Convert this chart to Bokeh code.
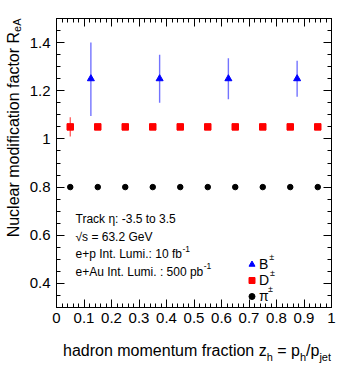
import math
from bokeh.plotting import figure
from bokeh.layouts import row, column
from bokeh.models import (FixedTicker, LinearAxis, Label, Legend, LegendItem,
                          ColumnDataSource, Range1d)
from bokeh.embed import file_html
from bokeh.resources import INLINE

# ---------------- data ----------------
z_pi = [0.05, 0.15, 0.25, 0.35, 0.45, 0.55, 0.65, 0.75, 0.85, 0.95]
R_pi = [0.80, 0.80, 0.80, 0.80, 0.80, 0.80, 0.80, 0.80, 0.80, 0.80]
err_pi = [0.002, 0.002, 0.002, 0.002, 0.002, 0.002, 0.002, 0.002, 0.002, 0.002]

z_D = [0.05, 0.15, 0.25, 0.35, 0.45, 0.55, 0.65, 0.75, 0.85, 0.95]
R_D = [1.05, 1.05, 1.05, 1.05, 1.05, 1.05, 1.05, 1.05, 1.05, 1.05]
err_D = [0.040, 0.010, 0.006, 0.005, 0.005, 0.005, 0.005, 0.005, 0.005, 0.005]

z_B = [0.125, 0.375, 0.625, 0.875]
R_B = [1.25, 1.25, 1.25, 1.25]
lo_B = [1.095, 1.150, 1.165, 1.175]
hi_B = [1.400, 1.350, 1.335, 1.325]

x_ticks = [0, 0.1, 0.2, 0.3, 0.4, 0.5, 0.6, 0.7, 0.8, 0.9, 1]
x_tick_labels = ["0", "0.1", "0.2", "0.3", "0.4", "0.5", "0.6", "0.7", "0.8", "0.9", "1"]
x_minor = [i / 50 for i in range(51)]
y_ticks = [0.4, 0.6, 0.8, 1.0, 1.2, 1.4]
y_tick_labels = ["0.4", "0.6", "0.8", "1", "1.2", "1.4"]
y_minor = [0.3 + i * 0.05 for i in range(25)]

legend_names = ["B", "D", "\u03c0"]
info_lines = ["Track \u03b7: -3.5 to 3.5", "\u221as = 63.2 GeV",
              "e+p Int. Lumi.: 10 fb", "e+Au Int. Lumi. : 500 pb"]

# ---------------- helpers ----------------
FONT = "Liberation Sans"
AW = {' ': 278, '\u00a0': 278, 'a': 556, 'b': 556, 'c': 500, 'd': 556, 'e': 556,
      'f': 278, 'g': 556, 'h': 556, 'i': 222, 'j': 222, 'k': 500, 'l': 222, 'm': 833,
      'n': 556, 'o': 556, 'p': 556, 'q': 556, 'r': 333, 's': 500, 't': 278, 'u': 556,
      'v': 500, 'w': 722, 'x': 500, 'y': 500, 'z': 500, '=': 584, '/': 278, '.': 278,
      ':': 278, '-': 333, '+': 584, 'A': 667, 'B': 667, 'D': 722, 'G': 667, 'I': 278,
      'L': 556, 'N': 722, 'R': 722, 'T': 611, 'V': 667, '\u03c0': 570, '\u03b7': 556,
      '\u221a': 549}
for d in "0123456789":
    AW[d] = 556


def tw(s, size):
    return sum(AW.get(c, 556) for c in s) * size / 1000.0


# page geometry (page margin is 0): frame left 56, right 331, top 18, bottom 307
YT_W = 24          # width of the y-title strip
P_W = 317          # main figure width
P_H = 335          # main figure height
XT_H = 31          # height of the x-title strip

# ---------------- main figure ----------------
p = figure(width=P_W, height=P_H, x_range=Range1d(0, 1), y_range=Range1d(0.3, 1.5),
           output_backend="svg", toolbar_location=None,
           min_border_left=32, min_border_right=10, min_border_top=18, min_border_bottom=28)
p.grid.visible = False
p.outline_line_color = "black"
p.background_fill_color = "white"
p.border_fill_color = "white"


def style_axis(ax, ticks, minor, labels, show, standoff):
    ax.ticker = FixedTicker(ticks=ticks, minor_ticks=minor)
    ax.major_tick_in = 8
    ax.major_tick_out = 0
    ax.minor_tick_in = 4
    ax.minor_tick_out = 0
    ax.axis_line_color = "black"
    ax.major_tick_line_color = "black"
    ax.minor_tick_line_color = "black"
    ax.major_label_text_font = FONT
    ax.major_label_text_color = "black"
    ax.major_label_text_font_size = "15px"
    ax.major_label_standoff = standoff
    if show:
        ax.major_label_overrides = {t: l for t, l in zip(ticks, labels)}
    else:
        ax.major_label_overrides = {t: "" for t in ticks}
        ax.major_label_text_color = None
        ax.major_label_text_font_size = "1px"
        ax.major_label_standoff = 0


style_axis(p.xaxis[0], x_ticks, x_minor, x_tick_labels, True, 5)
style_axis(p.yaxis[0], y_ticks, y_minor, y_tick_labels, True, 6)
top = LinearAxis()
right = LinearAxis()
style_axis(top, x_ticks, x_minor, x_tick_labels, False, 0)
style_axis(right, y_ticks, y_minor, y_tick_labels, False, 0)
p.add_layout(top, "above")
p.add_layout(right, "right")

# ---------------- data glyphs ----------------
src_pi = ColumnDataSource(dict(z=z_pi, R=R_pi, lo=[r - e for r, e in zip(R_pi, err_pi)],
                               hi=[r + e for r, e in zip(R_pi, err_pi)]))
src_D = ColumnDataSource(dict(z=z_D, R=R_D, lo=[r - e for r, e in zip(R_D, err_D)],
                              hi=[r + e for r, e in zip(R_D, err_D)]))
src_B = ColumnDataSource(dict(z=z_B, R=R_B, lo=lo_B, hi=hi_B))

p.segment(x0="z", y0="lo", x1="z", y1="hi", source=src_pi, line_color="black", line_width=1)
p.segment(x0="z", y0="lo", x1="z", y1="hi", source=src_D, line_color="#ff0000",
          line_alpha=0.7, line_width=1.2)
p.segment(x0="z", y0="lo", x1="z", y1="hi", source=src_B, line_color="#0000ff",
          line_alpha=0.55, line_width=1.4)

r_pi = p.scatter(x="z", y="R", source=src_pi, marker="circle", size=5.5,
                 fill_color="black", line_color="black")
r_D = p.scatter(x="z", y="R", source=src_D, marker="square", size=6.5,
                fill_color="#ff0000", line_color="#ff0000")
r_B = p.scatter(x="z", y="R", source=src_B, marker="triangle", size=7,
                fill_color="#0000ff", line_color="#0000ff")

# ---------------- legend ----------------
legend = Legend(items=[LegendItem(label=legend_names[0], renderers=[r_B]),
                       LegendItem(label=legend_names[1], renderers=[r_D]),
                       LegendItem(label=legend_names[2], renderers=[r_pi])],
                location=(188, 3), padding=0, margin=0, spacing=0,
                glyph_width=15, glyph_height=16, label_height=16, label_standoff=0,
                label_text_font=FONT, label_text_font_size="14px",
                label_text_color="black",
                background_fill_alpha=0, border_line_alpha=0)
p.add_layout(legend)

LS = 14
for name, yc in zip(legend_names, [43, 27, 11]):
    p.add_layout(Label(x=203 + tw(name, LS) + 0.5, y=yc + 3, x_units="screen", y_units="screen",
                       text="\u00b1", text_font=FONT, text_font_size="9px",
                       text_color="black", text_baseline="bottom", text_align="left"))

# ---------------- info text ----------------
IS = 12
for line, yc in zip(info_lines, [89, 71, 53.5, 36]):
    p.add_layout(Label(x=19, y=yc, x_units="screen", y_units="screen", text=line,
                       text_font=FONT, text_font_size=f"{IS}px", text_color="black",
                       text_baseline="middle", text_align="left"))
for line, yc in zip(info_lines[2:], [53.5, 36]):
    p.add_layout(Label(x=19 + tw(line, IS) + 0.5, y=yc + 2.5, x_units="screen", y_units="screen",
                       text="-1", text_font=FONT, text_font_size="8.5px", text_color="black",
                       text_baseline="bottom", text_align="left"))

# ---------------- axis titles (own strips so nothing is clipped) ----------------
TS = 16
SS = 11


def strip(w, h):
    f = figure(width=w, height=h, x_range=Range1d(0, 1), y_range=Range1d(0, 1),
               output_backend="svg", toolbar_location=None,
               x_axis_location=None, y_axis_location=None,
               min_border_left=0, min_border_right=0, min_border_top=0, min_border_bottom=0)
    f.grid.visible = False
    f.outline_line_color = None
    f.background_fill_color = "white"
    f.border_fill_color = "white"
    return f


yfig = strip(YT_W, P_H)
xfig = strip(P_W, XT_H)

# x title: the strip's frame is aligned with the main frame (width 275); right-anchor pieces
x_pieces = [("hadron momentum fraction z", TS), ("h", SS), ("\u00a0=\u00a0p", TS), ("h", SS),
            ("/p", TS), ("jet", SS)]
xe = 274.5
for s, f in reversed(x_pieces):
    yb = 16 if f == TS else 10
    xfig.add_layout(Label(x=xe, y=yb, x_units="screen", y_units="screen", text=s,
                          text_font=FONT, text_font_size=f"{f}px", text_color="black",
                          text_baseline="alphabetic", text_align="right"))
    xe -= tw(s, f)

ytop = (P_H - 18) - tw("eA", SS)
yfig.add_layout(Label(x=12.5, y=ytop, x_units="screen", y_units="screen",
                      text="Nuclear modification factor R", angle=math.pi / 2,
                      text_font=FONT, text_font_size=f"{TS}px", text_color="black",
                      text_baseline="alphabetic", text_align="right"))
yfig.add_layout(Label(x=16.5, y=ytop, x_units="screen", y_units="screen",
                      text="eA", angle=math.pi / 2,
                      text_font=FONT, text_font_size=f"{SS}px", text_color="black",
                      text_baseline="alphabetic", text_align="left"))

layout = row(yfig, column(p, xfig))
open("out.html", "w").write(file_html(layout, INLINE, "plot"))
